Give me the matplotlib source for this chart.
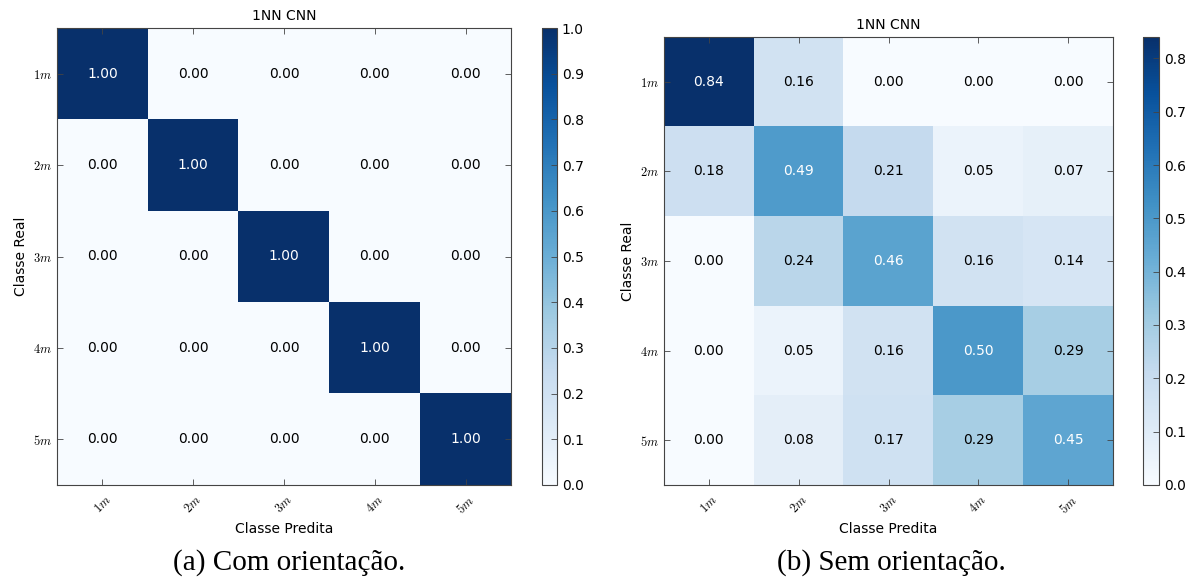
"""Two confusion matrices (1NN CNN) with and without orientation."""

import matplotlib

matplotlib.use("Agg")
import matplotlib.pyplot as plt
import numpy as np

CLASSES = ["$1m$", "$2m$", "$3m$", "$4m$", "$5m$"]

CM_COM = [
    [1.00, 0.00, 0.00, 0.00, 0.00],
    [0.00, 1.00, 0.00, 0.00, 0.00],
    [0.00, 0.00, 1.00, 0.00, 0.00],
    [0.00, 0.00, 0.00, 1.00, 0.00],
    [0.00, 0.00, 0.00, 0.00, 1.00],
]

CM_SEM = [
    [0.84, 0.16, 0.00, 0.00, 0.00],
    [0.18, 0.49, 0.21, 0.05, 0.07],
    [0.00, 0.24, 0.46, 0.16, 0.14],
    [0.00, 0.05, 0.16, 0.50, 0.29],
    [0.00, 0.08, 0.17, 0.29, 0.45],
]

CAPTIONS = ["(a) Com orientação.", "(b) Sem orientação."]
TITLE = "1NN CNN"

W, H = 1198, 583


def px_rect(x0, y0, x1, y1):
    return [x0 / W, (H - y1) / H, (x1 - x0) / W, (y1 - y0) / H]


def panel(fig, ax_rect, cb_rect, cm):
    cm = np.array(cm)
    ax = fig.add_axes(px_rect(*ax_rect))
    cax = fig.add_axes(px_rect(*cb_rect))
    im = ax.imshow(cm, cmap="Blues", interpolation="nearest", aspect="auto",
                   vmin=0, vmax=cm.max())
    ax.set_title(TITLE, fontsize=10)
    ticks = np.arange(len(CLASSES))
    ax.set_xticks(ticks)
    ax.set_xticklabels(CLASSES, rotation=45, fontsize=9)
    ax.set_yticks(ticks)
    ax.set_yticklabels(CLASSES, fontsize=9)
    ax.tick_params(direction="in", top=True, right=True, length=4, width=0.6,
                   color="#444444")
    ax.tick_params(axis="x", pad=6)
    for s in ax.spines.values():
        s.set_color("#444444")
    ax.set_xlabel("Classe Predita", fontsize=10)
    ax.set_ylabel("Classe Real", fontsize=10)
    thresh = cm.max() / 2.0
    for i in range(cm.shape[0]):
        for j in range(cm.shape[1]):
            ax.text(j, i, f"{cm[i, j]:.2f}", ha="center", va="center", fontsize=10,
                    color="white" if cm[i, j] > thresh else "black")
    cb = fig.colorbar(im, cax=cax)
    cb.set_ticks(np.arange(0, cm.max() + 0.001, 0.1))
    cb.ax.tick_params(direction="in", length=4, width=0.6, labelsize=10,
                      color="#444444")
    cb.outline.set_edgecolor("#444444")


def main():
    plt.rcParams.update({"mathtext.fontset": "cm", "font.family": "DejaVu Sans"})
    fig = plt.figure(figsize=(W / 100, H / 100), dpi=100)
    panel(fig, (57, 28, 511, 485), (542, 28, 557, 485), CM_COM)
    panel(fig, (664, 37, 1113, 485), (1143, 37, 1159, 485), CM_SEM)
    fig.text(289 / W, 1 - 563 / H, CAPTIONS[0], ha="center", va="center",
             fontsize=21, family="Liberation Serif")
    fig.text(891 / W, 1 - 563 / H, CAPTIONS[1], ha="center", va="center",
             fontsize=21, family="Liberation Serif")
    fig.savefig("out.png", dpi=100)


if __name__ == "__main__":
    main()
